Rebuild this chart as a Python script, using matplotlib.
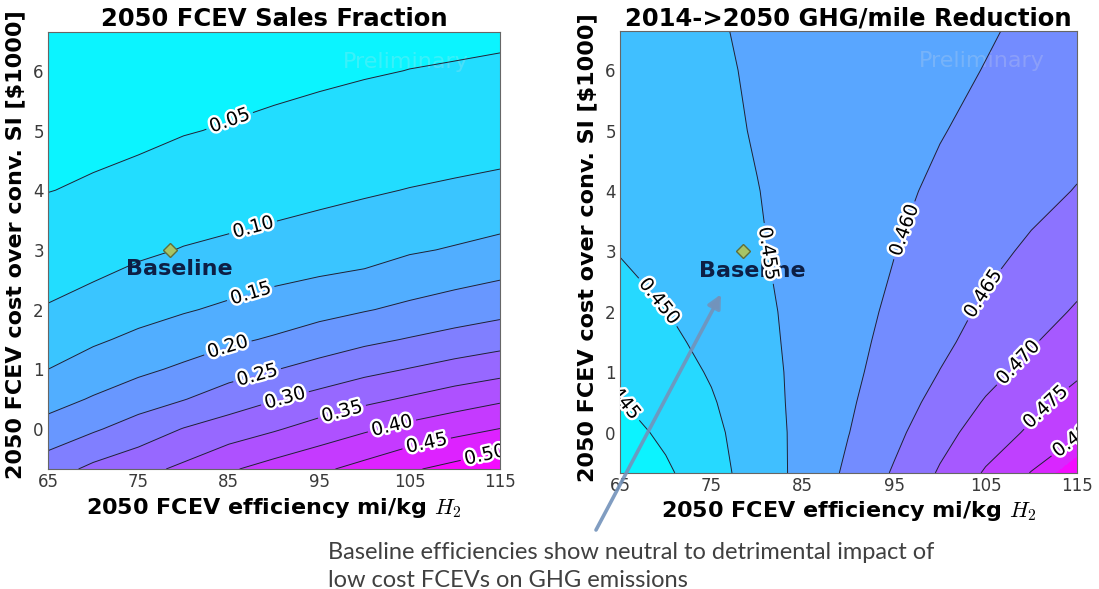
import matplotlib
matplotlib.use("Agg")
import matplotlib.pyplot as plt
import matplotlib.patheffects as pe
from matplotlib.patches import ConnectionPatch

plt.rcParams['font.family'] = 'DejaVu Sans'
plt.rcParams['mathtext.fontset'] = 'cm'

# ---- grid of the scenario sweep -------------------------------------------
efficiency = [65, 70, 75, 80, 85, 90, 95, 100, 105, 110, 115]          # mi/kg H2
cost = [-0.67, 0, 0.5, 1, 1.5, 2, 3, 4, 5, 6, 6.65]                     # $1000 over SI

# 2050 FCEV sales fraction, one row per cost value
sales_fraction = [
    [0.277, 0.311, 0.334, 0.360, 0.394, 0.419, 0.441, 0.466, 0.494, 0.515, 0.538],
    [0.218, 0.244, 0.272, 0.302, 0.323, 0.345, 0.370, 0.393, 0.415, 0.433, 0.451],
    [0.182, 0.204, 0.227, 0.248, 0.275, 0.297, 0.317, 0.338, 0.356, 0.375, 0.392],
    [0.150, 0.172, 0.190, 0.208, 0.229, 0.248, 0.267, 0.286, 0.302, 0.318, 0.332],
    [0.126, 0.143, 0.160, 0.175, 0.191, 0.205, 0.222, 0.239, 0.253, 0.267, 0.280],
    [0.103, 0.119, 0.133, 0.146, 0.158, 0.172, 0.185, 0.197, 0.210, 0.223, 0.235],
    [0.075, 0.078, 0.092, 0.102, 0.1086, 0.1151, 0.1217, 0.1283, 0.1448, 0.1537, 0.164],
    [0.049, 0.055, 0.063, 0.0704, 0.0767, 0.083, 0.0893, 0.0954, 0.1013, 0.1063, 0.1115],
    [0.034, 0.038, 0.041, 0.048, 0.0527, 0.058, 0.063, 0.0675, 0.0715, 0.0753, 0.079],
    [0.023, 0.026, 0.029, 0.033, 0.036, 0.039, 0.043, 0.047, 0.0505, 0.0528, 0.0554],
    [0.018, 0.020, 0.023, 0.025, 0.028, 0.031, 0.035, 0.037, 0.040, 0.0417, 0.0437],
]

# 2014->2050 GHG/mile reduction, one row per cost value
ghg_reduction = [
    [0.4403, 0.4442, 0.4482, 0.4522, 0.4564, 0.4609, 0.4655, 0.4705, 0.4755, 0.4802, 0.4888],
    [0.4431, 0.4460, 0.4489, 0.4525, 0.4563, 0.4599, 0.4638, 0.4683, 0.4723, 0.4758, 0.4790],
    [0.4448, 0.4472, 0.4496, 0.4529, 0.4563, 0.4594, 0.4628, 0.4665, 0.4704, 0.4736, 0.4770],
    [0.4458, 0.4480, 0.4504, 0.4533, 0.4562, 0.4590, 0.4619, 0.4651, 0.4684, 0.4715, 0.4742],
    [0.4469, 0.4490, 0.4512, 0.4537, 0.4562, 0.4587, 0.4613, 0.4640, 0.4668, 0.4696, 0.4723],
    [0.4481, 0.4499, 0.4520, 0.4540, 0.4562, 0.4584, 0.4608, 0.4633, 0.4657, 0.4681, 0.4705],
    [0.4502, 0.4517, 0.4531, 0.4546, 0.4563, 0.4581, 0.4599, 0.4619, 0.4638, 0.4657, 0.4676],
    [0.4505, 0.4520, 0.4535, 0.4549, 0.4564, 0.4578, 0.4592, 0.4607, 0.4622, 0.4637, 0.4652],
    [0.4508, 0.4523, 0.4539, 0.4553, 0.4564, 0.4575, 0.4586, 0.4598, 0.4610, 0.4622, 0.4635],
    [0.4512, 0.4528, 0.4543, 0.4555, 0.4564, 0.4573, 0.4582, 0.4592, 0.4601, 0.4611, 0.4621],
    [0.4514, 0.4530, 0.4546, 0.4556, 0.4564, 0.4573, 0.4581, 0.4589, 0.4597, 0.4606, 0.4615],
]

sales_levels = [0.00, 0.05, 0.10, 0.15, 0.20, 0.25, 0.30, 0.35, 0.40, 0.45, 0.50, 0.55]
ghg_levels = [0.440, 0.445, 0.450, 0.455, 0.460, 0.465, 0.470, 0.475, 0.480, 0.485, 0.490]

sales_labelled = [0.05, 0.10, 0.15, 0.20, 0.25, 0.30, 0.35, 0.40, 0.45, 0.50]
ghg_labelled = [0.445, 0.450, 0.455, 0.460, 0.465, 0.470, 0.475, 0.480]

# where each contour label sits (efficiency, cost)
sales_label_xy = [(85.1, 5.16), (87.7, 3.37), (87.5, 2.23), (84.9, 1.36), (88.1, 0.92),
                  (91.2, 0.52), (97.5, 0.30), (103.0, 0.08), (106.9, -0.25), (113.3, -0.42)]
ghg_label_xy = [(65.0, 0.62), (69.4, 2.19), (81.4, 2.97), (96.1, 3.35), (104.7, 2.3),
                (108.4, 1.18), (111.5, 0.43), (115.0, -0.1)]

baseline_eff = 78.5
baseline_cost = 3.0

x_ticks = [65, 75, 85, 95, 105, 115]
y_ticks = [0, 1, 2, 3, 4, 5, 6]

# ---- figure ----------------------------------------------------------------
W, H = 1099, 589
fig = plt.figure(figsize=(W / 100, H / 100), dpi=100)
fig.patch.set_facecolor('white')


def box(left, top, right, bottom):
    return [left / W, 1 - bottom / H, (right - left) / W, (bottom - top) / H]


ax1 = fig.add_axes(box(48, 32, 500, 469))
ax2 = fig.add_axes(box(620, 31, 1077, 473))

halo = [pe.withStroke(linewidth=3.5, foreground='white')]
line_color = '#1c2434'


def panel(ax, field, levels, labelled, label_xy, fmt, title):
    ax.contourf(efficiency, cost, field, levels=levels, cmap='cool', zorder=1)
    cs = ax.contour(efficiency, cost, field, levels=labelled, colors=line_color,
                    linewidths=0.7, zorder=2)
    ax.text(104.6, 6.15, 'Preliminary', fontsize=16, color='#e4e4e4', alpha=0.22,
            ha='center', va='center', zorder=1.5)
    ax.plot([baseline_eff], [baseline_cost], marker='D', markersize=7.5,
            markerfacecolor='#a6c466', markeredgecolor='#5f6e3a', markeredgewidth=1,
            linestyle='none', zorder=3)
    ax.text(79.5, 2.68, 'Baseline', fontsize=16, fontweight='bold', color='#0d1f45',
            ha='center', va='center', zorder=2.5)
    texts = ax.clabel(cs, levels=labelled, manual=label_xy, fmt=fmt, fontsize=13.5,
                      inline=True, inline_spacing=4, colors='black')
    for t in texts:
        t.set_path_effects(halo)
        t.set_zorder(4)
        t.set_clip_on(True)

    ax.set_xlim(efficiency[0], efficiency[-1])
    ax.set_ylim(cost[0], cost[-1])
    ax.set_xticks(x_ticks)
    ax.set_yticks(y_ticks)
    ax.tick_params(length=0, labelsize=12, labelcolor='#3a3a3a', pad=3)
    for s in ax.spines.values():
        s.set_color('#666666')
        s.set_linewidth(0.8)

    ax.set_title(title, fontsize=17.5, fontweight='bold', pad=4)
    ax.set_xlabel(r'2050 FCEV efficiency mi/kg $H_2$', fontsize=16, fontweight='bold')
    ax.set_ylabel('2050 FCEV cost over conv. SI [$1000]', fontsize=16, fontweight='bold')


panel(ax1, sales_fraction, sales_levels, sales_labelled, sales_label_xy, '%.2f',
      '2050 FCEV Sales Fraction')
panel(ax2, ghg_reduction, ghg_levels, ghg_labelled, ghg_label_xy, '%.3f',
      '2014->2050 GHG/mile Reduction')

ax1.xaxis.set_label_coords(0.5, -0.062)
ax2.xaxis.set_label_coords(0.5, -0.059)
ax1.yaxis.set_label_coords(-0.051, 0.513)
ax2.yaxis.set_label_coords(-0.050, 0.511)

# callout arrow from the note up into the GHG panel
arrow = ConnectionPatch(xyA=(596 / W, 1 - 530 / H), coordsA=fig.transFigure,
                        xyB=(76.05, 2.29), coordsB=ax2.transData,
                        arrowstyle='-|>', mutation_scale=20, color='#7393bb',
                        linewidth=2.6, alpha=0.9, zorder=5)
fig.add_artist(arrow)

fig.text(328 / W, 1 - 542 / H,
         'Baseline efficiencies show neutral to detrimental impact of\n'
         'low cost FCEVs on GHG emissions',
         fontsize=17, family=['Lato', 'DejaVu Sans'], color='#404040',
         ha='left', va='top', linespacing=1.4)

fig.savefig('out.png', dpi=100)
